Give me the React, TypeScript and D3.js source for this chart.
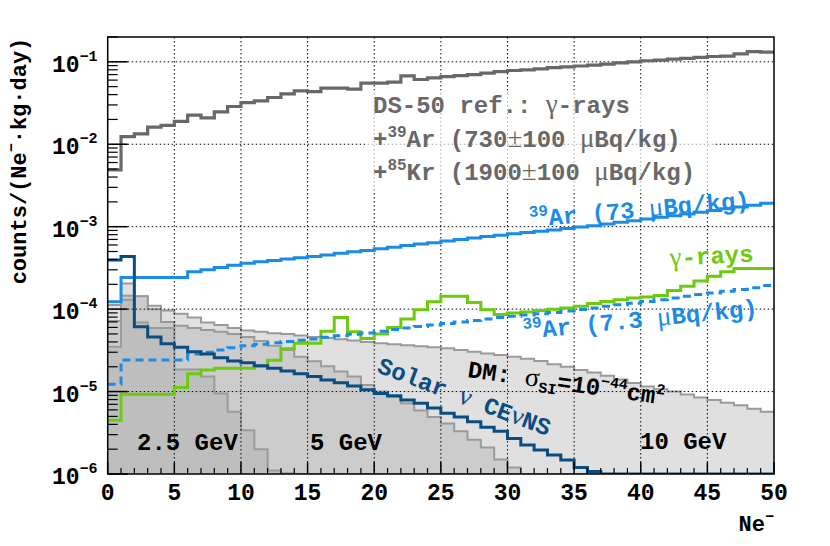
import * as d3 from 'd3'

// bins: Ne- = 0..49, width 1
const ds50Ref = [
  0.0049, 0.0124, 0.0134, 0.0161, 0.0169, 0.0189, 0.0226, 0.0209, 0.0247, 0.0287,
  0.032, 0.0336, 0.0369, 0.0409, 0.0445, 0.0436, 0.048, 0.048, 0.0466, 0.055,
  0.055, 0.0567, 0.0676, 0.061, 0.064, 0.066, 0.068, 0.07, 0.073, 0.076,
  0.0785, 0.08, 0.082, 0.085, 0.087, 0.089, 0.091, 0.094, 0.097, 0.1,
  0.103, 0.105, 0.108, 0.11, 0.113, 0.116, 0.117, 0.125, 0.133, 0.131,
]
const ar39High = [
  1.23e-4, 2.42e-4, 2.42e-4, 2.42e-4, 2.42e-4, 2.42e-4, 2.85e-4, 3.0e-4, 3.2e-4, 3.4e-4,
  3.6e-4, 3.75e-4, 3.9e-4, 4.05e-4, 4.2e-4, 4.35e-4, 4.55e-4, 4.75e-4, 4.95e-4, 5.15e-4,
  5.4e-4, 5.65e-4, 5.9e-4, 6.15e-4, 6.4e-4, 6.7e-4, 7.0e-4, 7.3e-4, 7.6e-4, 7.9e-4,
  8.2e-4, 8.5e-4, 8.8e-4, 9.1e-4, 9.5e-4, 9.9e-4, 1.03e-3, 1.08e-3, 1.13e-3, 1.18e-3,
  1.24e-3, 1.3e-3, 1.36e-3, 1.43e-3, 1.5e-3, 1.57e-3, 1.65e-3, 1.73e-3, 1.82e-3, 1.93e-3,
]
const ar39Low = [
  1.23e-5, 2.42e-5, 2.42e-5, 2.42e-5, 2.42e-5, 2.42e-5, 2.85e-5, 3.0e-5, 3.2e-5, 3.4e-5,
  3.6e-5, 3.75e-5, 3.9e-5, 4.05e-5, 4.2e-5, 4.35e-5, 4.55e-5, 4.75e-5, 4.95e-5, 5.15e-5,
  5.4e-5, 5.65e-5, 5.9e-5, 6.15e-5, 6.4e-5, 6.7e-5, 7.0e-5, 7.3e-5, 7.6e-5, 7.9e-5,
  8.2e-5, 8.5e-5, 8.8e-5, 9.1e-5, 9.5e-5, 9.9e-5, 1.03e-4, 1.08e-4, 1.13e-4, 1.18e-4,
  1.24e-4, 1.3e-4, 1.36e-4, 1.43e-4, 1.5e-4, 1.57e-4, 1.65e-4, 1.73e-4, 1.82e-4, 1.93e-4,
]
const gammaRays = [
  4.5e-6, 9.3e-6, 9.3e-6, 9.3e-6, 9.3e-6, 1.12e-5, 1.65e-5, 1.83e-5, 1.92e-5, 1.92e-5,
  1.92e-5, 2.03e-5, 2.4e-5, 3.3e-5, 3.85e-5, 3.85e-5, 5.4e-5, 7.9e-5, 5.3e-5, 4.4e-5,
  5.0e-5, 6.0e-5, 7.6e-5, 9.8e-5, 1.23e-4, 1.43e-4, 1.43e-4, 1.2e-4, 9.8e-5, 8.6e-5,
  9.0e-5, 9.2e-5, 9.6e-5, 1.0e-4, 1.03e-4, 1.08e-4, 1.17e-4, 1.24e-4, 1.3e-4, 1.36e-4,
  1.4e-4, 1.46e-4, 1.68e-4, 1.9e-4, 2.2e-4, 2.5e-4, 2.85e-4, 3.1e-4, 3.1e-4, 3.1e-4,
]
const solarNu = [
  3.95e-4, 4.34e-4, 6.1e-5, 4.6e-5, 3.8e-5, 3.45e-5, 3.05e-5, 2.85e-5, 2.58e-5, 2.35e-5,
  2.24e-5, 2.06e-5, 1.92e-5, 1.78e-5, 1.65e-5, 1.52e-5, 1.38e-5, 1.28e-5, 1.17e-5, 1.05e-5,
  9.5e-6, 8.9e-6, 7.9e-6, 7.2e-6, 6.3e-6, 5.45e-6, 4.9e-6, 4.3e-6, 3.7e-6, 3.3e-6,
  2.7e-6, 2.25e-6, 1.95e-6, 1.7e-6, 1.48e-6, 1.2e-6, 1.07e-6, 0, 0, 0,
  0, 0, 0, 0, 0, 0, 0, 0, 0, 0,
]
const dm10 = [
  1.12e-4, 2.05e-4, 1.43e-4, 1.1e-4, 9.6e-5, 8.8e-5, 7.9e-5, 6.9e-5, 6.4e-5, 5.9e-5,
  5.5e-5, 5.3e-5, 5.1e-5, 5.0e-5, 4.8e-5, 4.6e-5, 4.45e-5, 4.3e-5, 4.15e-5, 4.0e-5,
  3.85e-5, 3.75e-5, 3.65e-5, 3.55e-5, 3.45e-5, 3.35e-5, 3.2e-5, 3.05e-5, 2.9e-5, 2.78e-5,
  2.65e-5, 2.5e-5, 2.35e-5, 2.15e-5, 2.0e-5, 1.83e-5, 1.7e-5, 1.55e-5, 1.4e-5, 1.27e-5,
  1.15e-5, 1.07e-5, 1.0e-5, 9.2e-6, 8.5e-6, 7.9e-6, 7.3e-6, 6.8e-6, 6.2e-6, 5.7e-6,
]
const dm5 = [
  7.2e-5, 1.45e-4, 1.43e-4, 1.0e-4, 7.0e-5, 6.3e-5, 5.9e-5, 5.6e-5, 5.3e-5, 5.0e-5,
  4.6e-5, 4.1e-5, 3.6e-5, 3.2e-5, 2.65e-5, 2.33e-5, 2.03e-5, 1.75e-5, 1.52e-5, 1.2e-5,
  1.0e-5, 8.6e-6, 7.2e-6, 5.9e-6, 4.9e-6, 4.1e-6, 3.3e-6, 2.6e-6, 2.1e-6, 1.5e-6,
  1.2e-6, 1.0e-6, 0, 0, 0, 0, 0, 0, 0, 0,
  0, 0, 0, 0, 0, 0, 0, 0, 0, 0,
]
const dm25 = [
  3.5e-5, 1.3e-4, 6.9e-5, 5.9e-5, 5.9e-5, 1.85e-5, 1.85e-5, 1.52e-5, 9.5e-6, 5.7e-6,
  3.4e-6, 2.0e-6, 1.1e-6, 1.02e-6, 0, 0, 0, 0, 0, 0,
  0, 0, 0, 0, 0, 0, 0, 0, 0, 0,
  0, 0, 0, 0, 0, 0, 0, 0, 0, 0,
  0, 0, 0, 0, 0, 0, 0, 0, 0, 0,
]

const xTickValues = [0, 5, 10, 15, 20, 25, 30, 35, 40, 45, 50]
const yExponents = [-6, -5, -4, -3, -2, -1]

const W = 830
const H = 546
const plot = { left: 107.7, right: 774, top: 37, bottom: 474 }
const yMin = 1e-6
const yMax = 0.2

const FONT = "'Liberation Mono', 'DejaVu Sans Mono', monospace"
const GREEK = "'Liberation Serif', 'DejaVu Serif', serif"
const C = {
  ds50: '#686868',
  blue: '#1a8ce6',
  navy: '#0a4d80',
  green: '#6ccb0a',
  dmLine: '#9a9a9a',
}

const x = d3.scaleLinear().domain([0, 50]).range([plot.left, plot.right])
const y = d3.scaleLog().domain([yMin, yMax]).range([plot.bottom, plot.top])

const stepPts = (vals: number[]) =>
  vals.flatMap((v, i) => [[i, v], [i + 1, v]] as [number, number][])

const yc = (v: number) => y(Math.max(v, yMin))

const stepLine = d3
  .line<[number, number]>()
  .x((d) => x(d[0]))
  .y((d) => yc(d[1]))

const stepArea = d3
  .area<[number, number]>()
  .x((d) => x(d[0]))
  .y0(plot.bottom)
  .y1((d) => yc(d[1]))

// greek letter in a serif face, like ROOT's symbol font
const G = ({ c, size = 27 }: { c: string; size?: number }) => (
  <tspan fontFamily={GREEK} fontWeight="normal" fontSize={size}>
    {c}
  </tspan>
)

export default function App() {
  const minorY: number[] = []
  for (let e = -6; e <= -1; e++) {
    for (let m = 2; m <= 9; m++) {
      const v = m * Math.pow(10, e)
      if (v <= yMax) minorY.push(v)
    }
  }
  const minorX = d3.range(0, 51).filter((d) => d % 5 !== 0)

  const dmSets = [
    { vals: dm10, fill: '#e0e0e0' },
    { vals: dm5, fill: '#cccccc' },
    { vals: dm25, fill: '#bebebe' },
  ]

  return (
    <svg
      width={W}
      height={H}
      style={{ position: 'absolute', left: 0, top: 0, background: '#fff' }}
      fontFamily={FONT}
      fontWeight="bold"
    >
      <defs>
        <clipPath id="plotClip">
          <rect x={plot.left} y={plot.top} width={plot.right - plot.left} height={plot.bottom - plot.top} />
        </clipPath>
      </defs>

      <g clipPath="url(#plotClip)">
        {/* DM signal fills */}
        {dmSets.map((s, i) => (
          <g key={i}>
            <path d={stepArea(stepPts(s.vals)) ?? ''} fill={s.fill} />
            <path d={stepLine(stepPts(s.vals)) ?? ''} fill="none" stroke={C.dmLine} strokeWidth={2} />
          </g>
        ))}

        {/* grid */}
        {xTickValues.slice(1, -1).map((t) => (
          <line key={'gx' + t} x1={x(t)} x2={x(t)} y1={plot.top} y2={plot.bottom} stroke="#000" strokeWidth={1} strokeDasharray="1.5,2.5" />
        ))}
        {yExponents.slice(1).map((e) => (
          <line key={'gy' + e} x1={plot.left} x2={plot.right} y1={y(Math.pow(10, e))} y2={y(Math.pow(10, e))} stroke="#000" strokeWidth={1} strokeDasharray="1.5,2.5" />
        ))}

        {/* text backdrop */}
        <rect x={365} y={90} width={348} height={100} fill="#fff" opacity={0.65} />

        <path d={stepLine(stepPts(ds50Ref)) ?? ''} fill="none" stroke={C.ds50} strokeWidth={3.2} />
        <path d={stepLine(stepPts(ar39High)) ?? ''} fill="none" stroke={C.blue} strokeWidth={3} />
        <path d={stepLine(stepPts(gammaRays)) ?? ''} fill="none" stroke={C.green} strokeWidth={3} />
        <path d={stepLine(stepPts(ar39Low)) ?? ''} fill="none" stroke={C.blue} strokeWidth={3} strokeDasharray="8,5" />
        <path d={stepLine(stepPts(solarNu)) ?? ''} fill="none" stroke={C.navy} strokeWidth={3} />
      </g>

      {/* frame */}
      <rect x={plot.left} y={plot.top} width={plot.right - plot.left} height={plot.bottom - plot.top} fill="none" stroke="#000" strokeWidth={1.5} />

      {/* y ticks */}
      {yExponents.map((e) => (
        <line key={'ty' + e} x1={plot.left} x2={plot.left + 20} y1={y(Math.pow(10, e))} y2={y(Math.pow(10, e))} stroke="#000" strokeWidth={1.5} />
      ))}
      {minorY.map((v) => (
        <line key={'my' + v} x1={plot.left} x2={plot.left + 10} y1={y(v)} y2={y(v)} stroke="#000" strokeWidth={1.2} />
      ))}
      {/* x ticks */}
      {xTickValues.map((t) => (
        <line key={'tx' + t} x1={x(t)} x2={x(t)} y1={plot.bottom} y2={plot.bottom - 12} stroke="#000" strokeWidth={1.5} />
      ))}
      {minorX.map((t) => (
        <line key={'mx' + t} x1={x(t)} x2={x(t)} y1={plot.bottom} y2={plot.bottom - 6} stroke="#000" strokeWidth={1.2} />
      ))}

      {/* x tick labels */}
      {xTickValues.map((t) => (
        <text key={'lx' + t} x={x(t)} y={500} textAnchor="middle" fontSize={23} fill="#000">
          {t}
        </text>
      ))}
      {/* y tick labels */}
      {yExponents.map((e) => (
        <text key={'ly' + e} x={52} y={y(Math.pow(10, e)) + 10} fontSize={23} fill="#000">
          10<tspan dy={-11} fontSize={15}>{'\u2212' + Math.abs(e)}</tspan>
        </text>
      ))}

      {/* axis titles */}
      <text x={plot.right} y={531} textAnchor="end" fontSize={22} fill="#000">
        Ne<tspan dy={-10} fontSize={15}>−</tspan>
      </text>
      <text transform="translate(26,161) rotate(-90)" textAnchor="middle" fontSize={22} fill="#000">
        counts/(Ne<tspan dy={-10} fontSize={15}>−</tspan>
        <tspan dy={10}>·kg·day)</tspan>
      </text>

      {/* annotations */}
      <g fontSize={24} fill={C.ds50}>
        <text x={373} y={113}>
          DS-50 ref.: <G c="γ" />-rays
        </text>
        <text x={373} y={147}>
          +<tspan dy={-10} fontSize={16}>39</tspan>
          <tspan dy={10}>Ar (730</tspan>
          <G c="±" />
          <tspan>100 </tspan>
          <G c="μ" />
          <tspan>Bq/kg)</tspan>
        </text>
        <text x={373} y={180}>
          +<tspan dy={-10} fontSize={16}>85</tspan>
          <tspan dy={10}>Kr (1900</tspan>
          <G c="±" />
          <tspan>100 </tspan>
          <G c="μ" />
          <tspan>Bq/kg)</tspan>
        </text>
      </g>

      <text x={530} y={227} fontSize={24} fill={C.blue} transform="rotate(-5,530,227)">
        <tspan dy={-10} fontSize={16}>39</tspan>
        <tspan dy={10}>Ar (73 </tspan>
        <G c="μ" />
        <tspan>Bq/kg)</tspan>
      </text>
      <text x={670} y={266} fontSize={24} fill={C.green} transform="rotate(-3,670,266)">
        <G c="γ" />-rays
      </text>
      <text x={524} y={339} fontSize={24} fill={C.blue} transform="rotate(-5.7,524,339)">
        <tspan dy={-10} fontSize={16}>39</tspan>
        <tspan dy={10}>Ar (7.3 </tspan>
        <G c="μ" />
        <tspan>Bq/kg)</tspan>
      </text>
      <text x={467} y={377} fontSize={24} fill="#000" transform="rotate(8,467,377)">
        DM: <G c="σ" />
        <tspan dy={5} fontSize={15}>SI</tspan>
        <tspan dy={-5}>=10</tspan>
        <tspan dy={-10} fontSize={15}>−44</tspan>
        <tspan dy={10}>cm</tspan>
        <tspan dy={-10} fontSize={15}>2</tspan>
      </text>
      <text x={376} y={372} fontSize={24} fill={C.navy} transform="rotate(20.5,376,372)">
        Solar <G c="ν" /> CE<G c="ν" />NS
      </text>

      <g fontSize={24} fill="#000">
        <text x={137} y={450}>2.5 GeV</text>
        <text x={310} y={450}>5 GeV</text>
        <text x={640} y={449}>10 GeV</text>
      </g>
    </svg>
  )
}
